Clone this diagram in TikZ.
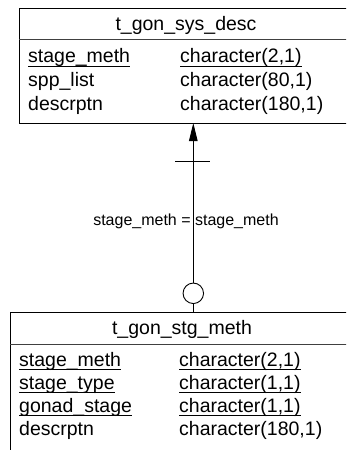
\documentclass[tikz,border=0pt]{standalone}
\usepackage{fontspec}
\setmainfont{Liberation Sans}
\usetikzlibrary{arrows.meta}
\begin{document}
\begin{tikzpicture}[x=1pt,y=-1pt,
  tbox/.style={draw=black,line width=0.9pt},
  sepline/.style={draw=black!75,line width=0.9pt},
  cell/.style={inner sep=0pt,anchor=base west,font=\fontsize{19.5}{23}\selectfont},
  ttl/.style={inner sep=0pt,anchor=base,font=\fontsize{19.5}{23}\selectfont},
  lbl/.style={inner sep=0pt,anchor=base,font=\fontsize{16}{19}\selectfont},
  conn/.style={draw=black,line width=0.9pt},
  ul/.style={draw=black,line width=1pt}]
\useasboundingbox (0,0) rectangle (346,450);
\clip (0,0) rectangle (346,450);
\fill[white] (0,0) rectangle (346,450);
% top table
\draw[tbox] (19,8) rectangle (360,123);
\draw[sepline] (19,39.5) -- (360,39.5);
\node[ttl] (t1title) at (186,30) {t\_gon\_sys\_desc};
\node[cell] (t1a) at (28,62.7) {stage\_meth};
\node[cell] (t1b) at (180,62.7) {character(2,1)};
\node[cell] (t1c) at (28,86.5) {spp\_list};
\node[cell] (t1d) at (180,86.5) {character(80,1)};
\node[cell] (t1e) at (28,110.3) {descrptn};
\node[cell] (t1f) at (180,110.3) {character(180,1)};
\foreach \n in {t1a,t1b}{\draw[ul] ([yshift=-3.5pt]\n.base west) -- ([yshift=-3.5pt]\n.base east);}
% bottom table
\draw[tbox] (10,312) rectangle (360,470);
\draw[sepline] (10,344) -- (360,344);
\node[ttl] (t2title) at (182,334) {t\_gon\_stg\_meth};
\node[cell] (t2a) at (19,366) {stage\_meth};
\node[cell] (t2b) at (179,366) {character(2,1)};
\node[cell] (t2c) at (19,389) {stage\_type};
\node[cell] (t2d) at (179,389) {character(1,1)};
\node[cell] (t2e) at (19,412) {gonad\_stage};
\node[cell] (t2f) at (179,412) {character(1,1)};
\node[cell] (t2g) at (19,435) {descrptn};
\node[cell] (t2h) at (179,435) {character(180,1)};
\foreach \n in {t2a,t2b,t2c,t2d,t2e,t2f}{\draw[ul] ([yshift=-3.5pt]\n.base west) -- ([yshift=-3.5pt]\n.base east);}
% connector
\coordinate (ptop) at (193.3,123);
\coordinate (pbot) at (193.3,312);
\node[draw=black,line width=0.9pt,circle,minimum size=20.5pt,inner sep=0pt] (circ) at (193.3,293.3) {};
\coordinate (barl) at (175,161.7);
\coordinate (barr) at (210,161.7);
\draw[conn] (pbot) -- (circ.south);
\draw[conn,-{Triangle[length=18pt,width=8.5pt]}] (circ.north) -- (ptop);
\draw[conn] (barl) -- (barr);
\node[lbl] (rel) at (186,225) {stage\_meth = stage\_meth};
\end{tikzpicture}
\end{document}
